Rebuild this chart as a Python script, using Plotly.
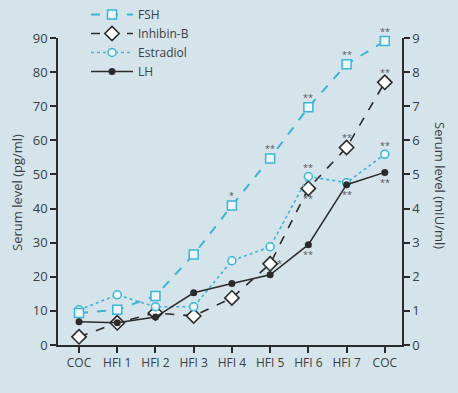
import plotly.graph_objects as go

categories = ["COC", "HFI 1", "HFI 2", "HFI 3", "HFI 4", "HFI 5", "HFI 6", "HFI 7", "COC"]
fsh = [0.94, 1.03, 1.44, 2.65, 4.09, 5.47, 6.97, 8.23, 8.91]          # mIU/ml (right axis)
lh = [0.68, 0.65, 0.82, 1.53, 1.80, 2.06, 2.94, 4.70, 5.06]           # mIU/ml (right axis)
inhibin_b = [2.4, 6.5, 9.4, 8.5, 13.8, 23.8, 45.9, 57.9, 77.0]        # pg/ml (left axis)
estradiol = [10.3, 14.7, 11.2, 11.2, 24.7, 28.8, 49.4, 47.6, 55.9]    # pg/ml (left axis)

sig_fsh = [(4, "*"), (5, "**"), (6, "**"), (7, "**"), (8, "**")]
sig_inh_above = [(7, "**"), (8, "**")]
sig_inh_below = [(6, "**")]
sig_inh_right = [(5, "*")]
sig_est = [(6, "**"), (8, "**")]
sig_lh = [(6, "**"), (7, "**"), (8, "**")]

x = list(range(len(categories)))
BLUE = "#3cb4d6"
DARK = "#2b2b2b"
BG = "#d5e3ea"
TXT = "#3a3f44"
FONT = "Open Sans"

L, R, T, B = 58, 56, 38, 48
W, H = 458, 393
pw, ph = W - L - R, H - T - B

fig = go.Figure()
fig.add_trace(go.Scatter(x=x, y=fsh, name="FSH", yaxis="y2", mode="lines+markers",
                         line=dict(color=BLUE, width=2, dash="dash"),
                         marker=dict(symbol="square", size=9, color="#eef6f9",
                                     line=dict(color=BLUE, width=1.5)),
                         cliponaxis=False))
fig.add_trace(go.Scatter(x=x, y=inhibin_b, name="Inhibin-B", yaxis="y", mode="lines+markers",
                         line=dict(color=DARK, width=1.6, dash="dash"),
                         marker=dict(symbol="diamond", size=11, color="white",
                                     line=dict(color=DARK, width=1.6)),
                         cliponaxis=False))
fig.add_trace(go.Scatter(x=x, y=estradiol, name="Estradiol", yaxis="y", mode="lines+markers",
                         line=dict(color=BLUE, width=1.6, dash="dot"),
                         marker=dict(symbol="circle", size=8, color="#eef6f9",
                                     line=dict(color=BLUE, width=1.5)),
                         cliponaxis=False))
fig.add_trace(go.Scatter(x=x, y=lh, name="LH", yaxis="y2", mode="lines+markers",
                         line=dict(color=DARK, width=1.5),
                         marker=dict(symbol="circle", size=7, color=DARK),
                         cliponaxis=False))

ann = []
def add_sig(series, axis, items, yshift, xshift=0):
    for i, t in items:
        ann.append(dict(x=i, y=series[i], xref="x", yref=axis, text=t, showarrow=False,
                        yshift=yshift, xshift=xshift,
                        font=dict(size=9, color="#555", family=FONT)))

add_sig(fsh, "y2", sig_fsh, 10)
add_sig(inhibin_b, "y", sig_inh_above, 10)
add_sig(inhibin_b, "y", sig_inh_below, -10)
add_sig(inhibin_b, "y", sig_inh_right, 0, 9)
add_sig(estradiol, "y", sig_est, 9)
add_sig(lh, "y2", sig_lh, -10)

ann.append(dict(x=(17 - L) / pw, y=(H - B - 193) / ph, xref="paper", yref="paper",
                xanchor="center", yanchor="middle",
                text="Serum level (pg/ml)", showarrow=False, textangle=-90,
                font=dict(size=13, color=TXT, family=FONT)))
ann.append(dict(x=(440 - L) / pw, y=(H - B - 185) / ph, xref="paper", yref="paper",
                xanchor="center", yanchor="middle",
                text="Serum level (mIU/ml)", showarrow=False, textangle=90,
                font=dict(size=13, color=TXT, family=FONT)))

fig.update_layout(
    width=W, height=H,
    margin=dict(l=L, r=R, t=T, b=B, autoexpand=False),
    paper_bgcolor=BG, plot_bgcolor=BG,
    font=dict(family=FONT, color=TXT, size=13),
    showlegend=True,
    legend=dict(x=86 / W, y=1.0, xref="container", yref="container",
                xanchor="left", yanchor="top",
                bgcolor="rgba(0,0,0,0)", font=dict(size=12, color=TXT, family=FONT),
                tracegroupgap=0, itemwidth=42),
    xaxis=dict(range=[-0.55, 8.45], tickvals=x, ticktext=categories, showgrid=False,
               zeroline=False, showline=True, linecolor=DARK, linewidth=1.5,
               ticks="outside", ticklen=6, tickcolor=DARK, tickwidth=1.5,
               tickfont=dict(size=12, color=TXT)),
    yaxis=dict(range=[0, 90], tickvals=list(range(0, 91, 10)), showgrid=False,
               zeroline=False, showline=True, linecolor=DARK, linewidth=1.5,
               ticks="outside", ticklen=6, tickcolor=DARK, tickwidth=1.5,
               tickfont=dict(size=13, color=TXT)),
    yaxis2=dict(range=[0, 9], tickvals=list(range(0, 10)), overlaying="y", side="right",
                showgrid=False, zeroline=False, showline=True, linecolor=DARK, linewidth=1.5,
                ticks="outside", ticklen=6, tickcolor=DARK, tickwidth=1.5,
                tickfont=dict(size=13, color=TXT)),
    annotations=ann,
)
fig.write_html("out.html", config={"displayModeBar": False},
               post_script="document.body.style.margin='0';document.body.style.padding='0';")
